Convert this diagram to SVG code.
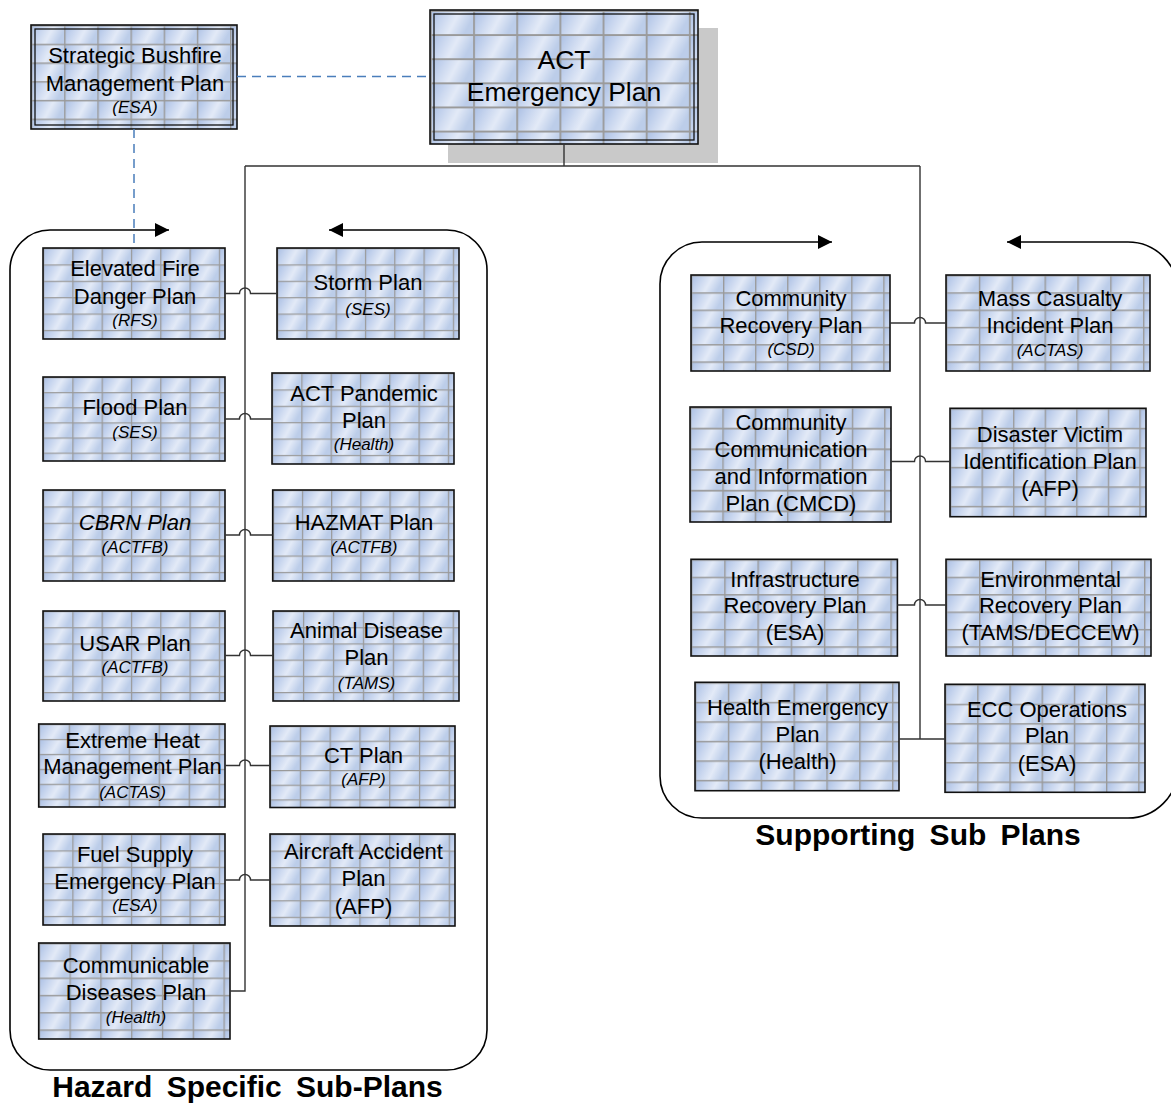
<svg xmlns="http://www.w3.org/2000/svg" width="1171" height="1104" viewBox="0 0 1171 1104">
<style>
.box{fill:url(#tile);stroke:#111;stroke-width:1.6}
.inner{fill:none;stroke:#111;stroke-width:1.3}
.t{font-family:"Liberation Sans",Arial,sans-serif;font-size:22px;text-anchor:middle;fill:#000}
.s{font-size:17px;font-style:italic}
.i{font-style:italic}
.big{font-size:26.5px}
.title{font-family:"Liberation Sans",Arial,sans-serif;font-weight:bold;font-size:30px;word-spacing:6px;text-anchor:middle;fill:#000}
.conn{fill:none;stroke:#333;stroke-width:1.4}
.dash{fill:none;stroke:#4a7ebb;stroke-width:1.5;stroke-dasharray:9 6}
.cont{fill:none;stroke:#000;stroke-width:1.6}
</style>
<defs>
<linearGradient id="cell" x1="0" y1="0" x2="1" y2="0.3">
<stop offset="0" stop-color="#a8bde2"/>
<stop offset="0.3" stop-color="#c3d2ed"/>
<stop offset="0.65" stop-color="#e3eaf7"/>
<stop offset="1" stop-color="#bccde9"/>
</linearGradient>
<pattern id="tile" patternUnits="objectBoundingBox" width="0.161" height="0.18" viewBox="0 0 30 16" preserveAspectRatio="none">
<rect width="30" height="16" fill="url(#cell)"/>
<path d="M0 0.6H30M0.6 0V16" stroke="#9a9a9a" stroke-width="1.3"/>
</pattern>
<marker id="ah" viewBox="0 0 14 14" refX="14" refY="7" markerWidth="14" markerHeight="14" markerUnits="userSpaceOnUse" orient="auto-start-reverse">
<path d="M0 0L14 7L0 14Z" fill="#000"/>
</marker>
</defs>

<g id="containers">
<path class="cont" marker-start="url(#ah)" marker-end="url(#ah)" d="M329 230H447A40 40 0 0 1 487 270V1030A40 40 0 0 1 447 1070H50A40 40 0 0 1 10 1030V270A40 40 0 0 1 50 230H169"/>
<path class="cont" marker-start="url(#ah)" marker-end="url(#ah)" d="M1007 242H1128A50 50 0 0 1 1178 292V768A50 50 0 0 1 1128 818H702A42 42 0 0 1 660 776V284A42 42 0 0 1 702 242H832"/>
<text class="title" x="247.5" y="1097">Hazard Specific Sub-Plans</text>
<text class="title" x="918" y="845">Supporting Sub Plans</text>
</g>

<g id="n-act">
<rect x="448" y="28" width="270" height="135" fill="#c9c9c9"/>
<rect class="box" x="430" y="10" width="268" height="134"/>
<rect class="inner" x="434" y="14" width="260" height="126"/>
<text class="t big" x="564" y="69">ACT</text>
<text class="t big" x="564" y="101">Emergency Plan</text>
</g>

<g id="n-strategic">
<rect class="box" x="31" y="25" width="206" height="104"/>
<rect class="inner" x="35" y="29" width="198" height="96"/>
<text class="t" x="135" y="62.7">Strategic Bushfire</text>
<text class="t" x="135" y="90.5">Management Plan</text>
<text class="t s" x="135" y="113">(ESA)</text>
</g>

<g id="n-elevated">
<rect class="box" x="43" y="248" width="182" height="91"/>
<text class="t" x="135" y="276">Elevated Fire</text>
<text class="t" x="135" y="303.5">Danger Plan</text>
<text class="t s" x="135" y="326">(RFS)</text>
</g>

<g id="n-storm">
<rect class="box" x="277" y="248" width="182" height="91"/>
<text class="t" x="368" y="290">Storm Plan</text>
<text class="t s" x="368" y="315">(SES)</text>
</g>

<g id="n-flood">
<rect class="box" x="43" y="377" width="182" height="84"/>
<text class="t" x="135" y="415">Flood Plan</text>
<text class="t s" x="135" y="438">(SES)</text>
</g>

<g id="n-pandemic">
<rect class="box" x="272" y="373" width="182" height="91"/>
<text class="t" x="364" y="401">ACT Pandemic</text>
<text class="t" x="364" y="428">Plan</text>
<text class="t s" x="364" y="450">(Health)</text>
</g>

<g id="n-cbrn">
<rect class="box" x="43" y="490" width="182" height="91"/>
<text class="t i" x="135" y="530">CBRN Plan</text>
<text class="t s" x="135" y="553">(ACTFB)</text>
</g>

<g id="n-hazmat">
<rect class="box" x="272.7" y="490" width="181.3" height="91"/>
<text class="t" x="364" y="530">HAZMAT Plan</text>
<text class="t s" x="364" y="553">(ACTFB)</text>
</g>

<g id="n-usar">
<rect class="box" x="43" y="611" width="182" height="90"/>
<text class="t" x="135" y="651">USAR Plan</text>
<text class="t s" x="135" y="673">(ACTFB)</text>
</g>

<g id="n-animal">
<rect class="box" x="273" y="611" width="186" height="90"/>
<text class="t" x="366.5" y="637.5">Animal Disease</text>
<text class="t" x="366.5" y="664.5">Plan</text>
<text class="t s" x="366.5" y="688.5">(TAMS)</text>
</g>

<g id="n-extreme">
<rect class="box" x="38.7" y="724" width="186.3" height="83"/>
<text class="t" x="132.5" y="748">Extreme Heat</text>
<text class="t" x="132.5" y="774">Management Plan</text>
<text class="t s" x="132.5" y="798">(ACTAS)</text>
</g>

<g id="n-ct">
<rect class="box" x="270" y="726" width="185" height="81.5"/>
<text class="t" x="363.5" y="762.5">CT Plan</text>
<text class="t s" x="363.5" y="785">(AFP)</text>
</g>

<g id="n-fuel">
<rect class="box" x="43" y="834" width="182" height="91"/>
<text class="t" x="135" y="862">Fuel Supply</text>
<text class="t" x="135" y="889">Emergency Plan</text>
<text class="t s" x="135" y="911">(ESA)</text>
</g>

<g id="n-aircraft">
<rect class="box" x="270" y="834" width="185" height="92"/>
<text class="t" x="363.5" y="858.5">Aircraft Accident</text>
<text class="t" x="363.5" y="886">Plan</text>
<text class="t" x="363.5" y="914">(AFP)</text>
</g>

<g id="n-communicable">
<rect class="box" x="38.7" y="943" width="191.3" height="96"/>
<text class="t" x="136" y="972.7">Communicable</text>
<text class="t" x="136" y="1000">Diseases Plan</text>
<text class="t s" x="136" y="1023">(Health)</text>
</g>

<g id="n-crp">
<rect class="box" x="691" y="275" width="199" height="96"/>
<text class="t" x="791" y="305.5">Community</text>
<text class="t" x="791" y="332.5">Recovery Plan</text>
<text class="t s" x="791" y="355">(CSD)</text>
</g>

<g id="n-mci">
<rect class="box" x="946" y="275" width="204" height="96"/>
<text class="t" x="1050" y="305.5">Mass Casualty</text>
<text class="t" x="1050" y="332.5">Incident Plan</text>
<text class="t s" x="1050" y="355.5">(ACTAS)</text>
</g>

<g id="n-cmcd">
<rect class="box" x="690" y="407" width="201" height="115"/>
<text class="t" x="791" y="429.5">Community</text>
<text class="t" x="791" y="456.7">Communication</text>
<text class="t" x="791" y="484">and Information</text>
<text class="t" x="791" y="511">Plan (CMCD)</text>
</g>

<g id="n-dvi">
<rect class="box" x="950" y="408.3" width="196" height="108.4"/>
<text class="t" x="1050" y="441.7">Disaster Victim</text>
<text class="t" x="1050" y="468.7">Identification Plan</text>
<text class="t" x="1050" y="495.7">(AFP)</text>
</g>

<g id="n-irp">
<rect class="box" x="691" y="559.3" width="206.4" height="96.7"/>
<text class="t" x="795" y="586.7">Infrastructure</text>
<text class="t" x="795" y="613.3">Recovery Plan</text>
<text class="t" x="795" y="640">(ESA)</text>
</g>

<g id="n-erp">
<rect class="box" x="946" y="559.3" width="205" height="96.7"/>
<text class="t" x="1050.5" y="586.7">Environmental</text>
<text class="t" x="1050.5" y="613.3">Recovery Plan</text>
<text class="t" x="1050.5" y="640">(TAMS/DECCEW)</text>
</g>

<g id="n-hep">
<rect class="box" x="695" y="682.3" width="204" height="108.4"/>
<text class="t" x="797.5" y="715">Health Emergency</text>
<text class="t" x="797.5" y="741.7">Plan</text>
<text class="t" x="797.5" y="769">(Health)</text>
</g>

<g id="n-ecc">
<rect class="box" x="945" y="684.3" width="200" height="108"/>
<text class="t" x="1047" y="716.7">ECC Operations</text>
<text class="t" x="1047" y="743.3">Plan</text>
<text class="t" x="1047" y="771">(ESA)</text>
</g>

<g id="connectors">
<path class="dash" d="M237 76.5H430M134 129V248"/>
<path class="conn" d="M564 144V166M245 166H920M245 166V991H230M920 166V739M899 739H945"/>
<path class="conn" d="M225 293.5H239.5a5.5 5.5 0 0 1 11 0H277"/>
<path class="conn" d="M225 419H239.5a5.5 5.5 0 0 1 11 0H272"/>
<path class="conn" d="M225 535H239.5a5.5 5.5 0 0 1 11 0H272.7"/>
<path class="conn" d="M225 655.5H239.5a5.5 5.5 0 0 1 11 0H273"/>
<path class="conn" d="M225 765.5H239.5a5.5 5.5 0 0 1 11 0H270"/>
<path class="conn" d="M225 880H239.5a5.5 5.5 0 0 1 11 0H270"/>
<path class="conn" d="M890 323H914.5a5.5 5.5 0 0 1 11 0H946"/>
<path class="conn" d="M891 461.5H914.5a5.5 5.5 0 0 1 11 0H950"/>
<path class="conn" d="M897.4 605H914.5a5.5 5.5 0 0 1 11 0H946"/>
</g>
</svg>
